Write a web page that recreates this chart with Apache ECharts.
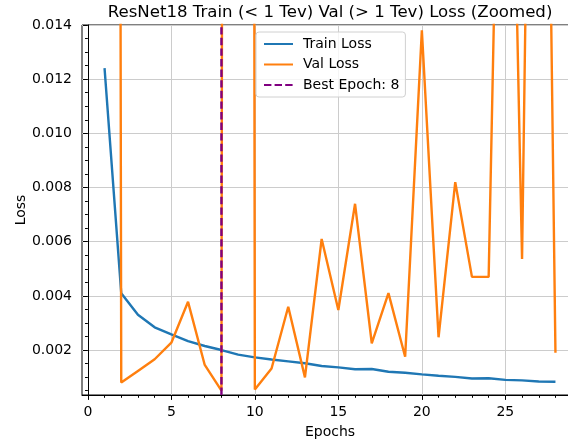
<!DOCTYPE html>
<html>
<head>
<meta charset="utf-8">
<script src="https://cdn.jsdelivr.net/npm/echarts@6/dist/echarts.min.js"></script>
<style>
html, body { margin: 0; padding: 0; background: #fff; }
#chart { width: 568px; height: 440px; }
</style>
</head>
<body>
<div id="chart"></div>
<script>
// values (epochs 1..28)
var epochs = [1, 2, 3, 4, 5, 6, 7, 8, 9, 10, 11, 12, 13, 14, 15, 16, 17, 18, 19, 20, 21, 22, 23, 24, 25, 26, 27, 28];
var trainLoss = [0.01241, 0.0041, 0.0033, 0.00284, 0.00258, 0.00233, 0.00215, 0.0020, 0.00183, 0.00173,
	0.00165, 0.00158, 0.00151, 0.00141, 0.00136, 0.00129, 0.0013, 0.0012, 0.00116, 0.0011,
	0.00105, 0.00101, 0.00095, 0.00096, 0.0009, 0.00088, 0.00084, 0.00083];
// epochs 1, 9, 25, 27 are far above the zoomed range (estimated)
var valLoss = [0.33, 0.0008, 0.00123, 0.00166, 0.00227, 0.00378, 0.00145, 0.0005, 0.45, 0.00054,
	0.00132, 0.0036, 0.00099, 0.0061, 0.00348, 0.0074, 0.00225, 0.0041, 0.00175, 0.0138,
	0.00247, 0.0082, 0.0047, 0.0047, 0.035, 0.00536, 0.05, 0.0019];
var bestEpoch = 8;
var xTicks = [0, 5, 10, 15, 20, 25];
var yTicks = [0.002, 0.004, 0.006, 0.008, 0.010, 0.012, 0.014];
var xRange = [-0.35, 29.35];
var yRange = [0.00034, 0.014];

var font = 'DejaVu Sans';

function pairs(xs, ys) {
	var out = [];
	for (var i = 0; i < xs.length; i++) {
		out.push([xs[i], ys[i]]);
	}
	return out;
}

var xMinor = [];
for (var i = 0; i <= 29; i++) {
	if (i % 5) xMinor.push(i);
}
var yMinor = [];
for (var k = 1; k <= 27; k++) {
	if (k % 4) yMinor.push(+(k * 0.0005).toFixed(4));
}

var axisLineStyle = { color: '#000', width: 1 };

var option = {
	animation: false,
	backgroundColor: '#fff',
	title: {
		text: 'ResNet18 Train (< 1 Tev) Val (> 1 Tev) Loss (Zoomed)',
		left: 330,
		top: 4,
		padding: 0,
		textAlign: 'center',
		textStyle: { fontFamily: font, fontSize: 16.6, fontWeight: 'normal', color: '#000' }
	},
	grid: {
		left: 82, right: -10, top: 25, bottom: 45,
		show: true, borderColor: '#000', borderWidth: 1,
		outerBoundsMode: 'none'
	},
	legend: {
		orient: 'vertical',
		left: 256, top: 32,
		itemWidth: 29, itemHeight: 14, itemGap: 6.5,
		padding: [5, 6, 5, 7],
		backgroundColor: 'rgba(255,255,255,0.8)',
		borderColor: '#d0d0d0', borderWidth: 1, borderRadius: 3,
		itemStyle: { opacity: 0 },
		textStyle: { fontFamily: font, fontSize: 14, color: '#000', padding: [0, 0, 0, 5] },
		data: ['Train Loss', 'Val Loss', 'Best Epoch: ' + bestEpoch]
	},
	xAxis: [{
		type: 'value', min: xRange[0], max: xRange[1], position: 'bottom',
		name: 'Epochs', nameLocation: 'middle', nameGap: 30, nameMoveOverlap: false,
		nameTextStyle: { fontFamily: font, fontSize: 14, color: '#000' },
		axisLine: { show: true, lineStyle: axisLineStyle },
		axisTick: { show: true, length: 4.9, customValues: xTicks, lineStyle: axisLineStyle },
		axisLabel: { customValues: xTicks, margin: 10, fontFamily: font, fontSize: 14, color: '#000' },
		splitLine: { show: true, lineStyle: { color: '#cccccc', width: 1 } }
	}, {
		type: 'value', min: xRange[0], max: xRange[1], position: 'bottom',
		axisLine: { show: false },
		axisTick: { show: true, length: 2.8, customValues: xMinor, lineStyle: axisLineStyle },
		axisLabel: { show: false },
		splitLine: { show: false }
	}],
	yAxis: [{
		type: 'value', min: yRange[0], max: yRange[1], position: 'left',
		name: 'Loss', nameLocation: 'middle', nameGap: 54, nameMoveOverlap: false,
		nameTextStyle: { fontFamily: font, fontSize: 14, color: '#000' },
		axisLine: { show: true, lineStyle: axisLineStyle },
		axisTick: { show: true, length: 4.9, customValues: yTicks, lineStyle: axisLineStyle },
		axisLabel: {
			customValues: yTicks, margin: 10, fontFamily: font, fontSize: 14, color: '#000',
			formatter: function (v) { return v.toFixed(3); }
		},
		splitLine: { show: true, lineStyle: { color: '#cccccc', width: 1 } }
	}, {
		type: 'value', min: yRange[0], max: yRange[1], position: 'left',
		axisLine: { show: false },
		axisTick: { show: true, length: 2.8, customValues: yMinor, lineStyle: axisLineStyle },
		axisLabel: { show: false },
		splitLine: { show: false }
	}],
	series: [{
		name: 'Train Loss', type: 'line', data: pairs(epochs, trainLoss),
		symbol: 'none', z: 2,
		lineStyle: { color: '#1f77b4', width: 2.4 }, itemStyle: { color: '#1f77b4' }
	}, {
		name: 'Val Loss', type: 'line', data: pairs(epochs, valLoss),
		symbol: 'none', z: 3,
		lineStyle: { color: '#ff7f0e', width: 2.4 }, itemStyle: { color: '#ff7f0e' }
	}, {
		name: 'Best Epoch: ' + bestEpoch, type: 'line',
		data: [[bestEpoch, yRange[0]], [bestEpoch, yRange[1]]],
		symbol: 'none', z: 4,
		lineStyle: { color: '#800080', width: 2.4, type: [7.4, 3.2] }, itemStyle: { color: '#800080' }
	}]
};

var myChart = echarts.init(document.getElementById('chart'));
myChart.setOption(option);
</script>
</body>
</html>
